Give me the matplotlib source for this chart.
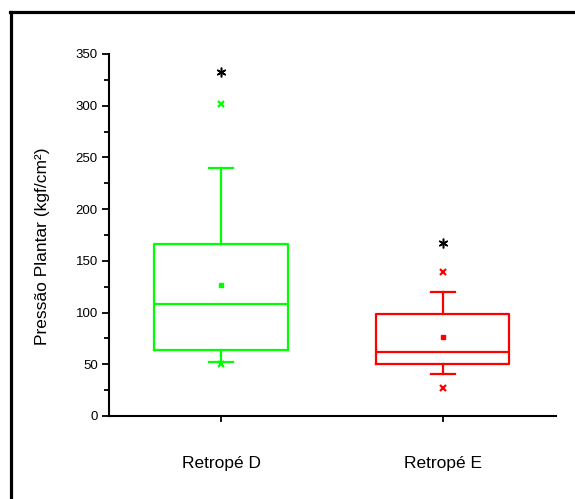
import matplotlib.pyplot as plt
from matplotlib.lines import Line2D
from matplotlib.ticker import MultipleLocator

plt.rcParams['font.family'] = ['Liberation Sans', 'DejaVu Sans']

# box statistics per group (kgf/cm²)
groups = ['Retropé D', 'Retropé E']
colors = ['#00ff00', '#ff0000']
q1 = [63.8, 50.3]
median = [108.3, 61.6]
q3 = [166.3, 98.3]
whis_lo = [51.9, 40.3]
whis_hi = [239.8, 119.9]
mean = [126.7, 76.1]
pct_lo = [50.3, 27.4]    # 1% markers
pct_hi = [301.7, 139.6]  # 99% markers
max_val = [333.0, 167.0]

fig = plt.figure(figsize=(5.75, 4.99), dpi=100)
ax = fig.add_axes([109 / 575, 1 - 416 / 499, 447 / 575, 362 / 499])

pos = [1, 2]
for i, p in enumerate(pos):
    st = [{'q1': q1[i], 'med': median[i], 'q3': q3[i],
           'whislo': whis_lo[i], 'whishi': whis_hi[i], 'fliers': []}]
    c = colors[i]
    ax.bxp(st, positions=[p], widths=0.6, capwidths=0.11, showfliers=False,
           boxprops=dict(color=c, lw=1.6),
           medianprops=dict(color=c, lw=1.6),
           whiskerprops=dict(color=c, lw=1.6),
           capprops=dict(color=c, lw=1.6))
    ax.plot(p, mean[i], 's', color=c, ms=2.2, mec=c)
    ax.plot([p, p], [pct_lo[i], pct_hi[i]], 'x', color=c, ms=4, mew=1.6, ls='none')
    # asterisk for the maximum
    ax.plot(p, max_val[i], marker=(6, 2, 0), color='black', ms=7, mew=1.1)

ax.set_xlim(0.495, 2.51)
ax.set_ylim(0, 350)
ax.set_xticks(pos)
ax.set_xticklabels(groups, fontsize=12.5)
ax.yaxis.set_major_locator(MultipleLocator(50))
ax.yaxis.set_minor_locator(MultipleLocator(25))
ax.tick_params(axis='y', labelsize=9.5, length=5, width=1.3, pad=3)
ax.tick_params(axis='y', which='minor', length=3.8, width=1.3)
ax.tick_params(axis='x', length=4.5, width=1.3, pad=24)

for s in ['top', 'right']:
    ax.spines[s].set_visible(False)
for s in ['left', 'bottom']:
    ax.spines[s].set_linewidth(1.5)

ax.set_ylabel('Pressão Plantar (kgf/cm²)', fontsize=12.5)
ax.yaxis.set_label_coords(-0.132, 0.468)

# outer frame, only left and top edges fall inside the image
fig.add_artist(Line2D([10.5 / 575, 10.5 / 575], [0, 1 - 11.5 / 499],
                      transform=fig.transFigure, color='black', lw=2.3))
fig.add_artist(Line2D([9.5 / 575, 1], [1 - 11.5 / 499, 1 - 11.5 / 499],
                      transform=fig.transFigure, color='black', lw=2.3))

fig.savefig('out.png', dpi=100)
